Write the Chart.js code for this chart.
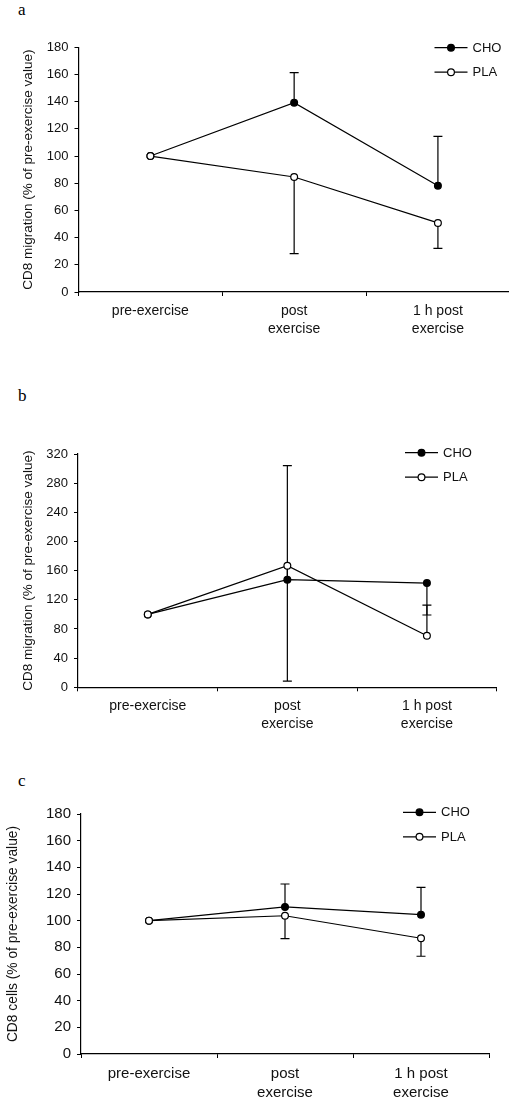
<!DOCTYPE html>
<html>
<head>
<meta charset="utf-8">
<script src="https://cdn.jsdelivr.net/npm/chart.js@4/dist/chart.umd.min.js"></script>
<style>
  html, body { margin: 0; padding: 0; background: #fff; overflow: hidden; }
  body { width: 509px; height: 1106px; position: relative; }
  .panel { position: absolute; left: 0; width: 515px; }
  .letter { position: absolute; left: 18px; font: 17px "Liberation Serif", "Times New Roman", serif; line-height: 17px; color: #000; }
</style>
</head>
<body>
<div class="letter" style="top:1px">a</div>
<div class="letter" style="top:387px">b</div>
<div class="letter" style="top:772px">c</div>

<div class="panel" style="top:0px;height:360px"><canvas id="chart-a"></canvas></div>
<div class="panel" style="top:380px;height:360px"><canvas id="chart-b"></canvas></div>
<div class="panel" style="top:750px;height:356px"><canvas id="chart-c"></canvas></div>

<script>
// time points
const categories = ['pre-exercise', ['post', 'exercise'], ['1 h post', 'exercise']];
const seriesNames = ['CHO', 'PLA'];

// panel a - CD8 migration
const choA = [100, 139.3, 78.2];
const choErrA = [0, 22, 36.3];
const plaA = [100, 84.6, 50.8];
const plaErrA = [0, -56.4, -18.7];

// panel b - CD8 migration
const choB = [100, 147.6, 143];
const choErrB = [0, 156.4, -43.8];
const plaB = [100, 166.8, 70.8];
const plaErrB = [0, -158.2, 41.8];

// panel c - CD8 cells
const choC = [100, 110.3, 104.5];
const choErrC = [0, 17.2, 20.5];
const plaC = [100, 103.7, 86.8];
const plaErrC = [0, -17.2, -13.5];

const titleMigration = 'CD8 migration (% of pre-exercise value)';
const titleCells = 'CD8 cells (% of pre-exercise value)';

// plus = error bar goes up, minus = goes down
const errorBars = {
    id: 'errorBars',
    beforeDatasetsDraw(chart) {
        const ctx = chart.ctx;
        const xs = chart.scales.x, ys = chart.scales.y;
        ctx.save();
        ctx.strokeStyle = '#000';
        ctx.lineWidth = 1.2;
        chart.data.datasets.forEach((ds) => {
            ds.err.forEach((e, i) => {
                if (!e) return;
                const px = xs.getPixelForValue(i);
                const y0 = ys.getPixelForValue(ds.data[i]);
                const y1 = ys.getPixelForValue(ds.data[i] + e);
                ctx.beginPath();
                ctx.moveTo(px, y0);
                ctx.lineTo(px, y1);
                ctx.moveTo(px - 4.5, y1);
                ctx.lineTo(px + 4.5, y1);
                ctx.stroke();
            });
        });
        ctx.restore();
    }
};

// legend: line with marker in the middle, name on the right
const lineLegend = {
    id: 'lineLegend',
    afterDraw(chart, args, opts) {
        const ctx = chart.ctx;
        ctx.save();
        chart.data.datasets.forEach((ds, i) => {
            const y = opts.y + i * 24.5;
            ctx.strokeStyle = '#000';
            ctx.lineWidth = 1.2;
            ctx.beginPath();
            ctx.moveTo(opts.x, y);
            ctx.lineTo(opts.x + 33, y);
            ctx.stroke();
            ctx.beginPath();
            ctx.arc(opts.x + 16.5, y, 3.4, 0, Math.PI * 2);
            ctx.fillStyle = ds.pointBackgroundColor;
            ctx.fill();
            ctx.stroke();
            ctx.fillStyle = '#111';
            ctx.font = opts.fontSize + 'px "Liberation Sans", Arial, sans-serif';
            ctx.textBaseline = 'middle';
            ctx.fillText(ds.label, opts.x + 38, y + 0.5);
        });
        ctx.restore();
    }
};

function makePanel(id, cho, choErr, pla, plaErr, p) {
    const ctx = document.getElementById(id);
    return new Chart(ctx, {
        type: 'line',
        data: {
            labels: categories,
            datasets: [
                {
                    label: seriesNames[0],
                    data: cho,
                    err: choErr,
                    order: 1,
                    borderColor: '#000',
                    borderWidth: 1.2,
                    pointRadius: 3.4,
                    pointBorderWidth: 1.2,
                    pointBorderColor: '#000',
                    pointBackgroundColor: '#000',
                    tension: 0,
                },
                {
                    label: seriesNames[1],
                    data: pla,
                    err: plaErr,
                    order: 0,
                    borderColor: '#000',
                    borderWidth: 1.2,
                    pointRadius: 3.4,
                    pointBorderWidth: 1.2,
                    pointBorderColor: '#000',
                    pointBackgroundColor: '#fff',
                    tension: 0,
                }
            ]
        },
        options: {
            responsive: true,
            maintainAspectRatio: false,
            animation: false,
            layout: {
                padding: { top: p.top, right: p.right, left: 0, bottom: 0 }
            },
            scales: {
                x: {
                    offset: true,
                    grid: { offset: true, drawOnChartArea: false, color: '#000', tickLength: 4 },
                    border: { color: '#000', width: 1.2 },
                    ticks: {
                        color: '#111',
                        padding: p.xPad,
                        maxRotation: 0,
                        font: { family: '"Liberation Sans", Arial, sans-serif', size: p.xFont, lineHeight: 1.3 }
                    },
                    afterFit: (scale) => { scale.height = p.xHeight; }
                },
                y: {
                    min: 0,
                    max: p.max,
                    grid: { drawOnChartArea: false, color: '#000', tickLength: 4 },
                    border: { color: '#000', width: 1.2 },
                    ticks: {
                        stepSize: p.step,
                        color: '#111',
                        padding: 6,
                        font: { family: '"Liberation Sans", Arial, sans-serif', size: p.yFont }
                    },
                    title: {
                        display: true,
                        text: p.title,
                        color: '#111',
                        padding: { top: p.titlePad, bottom: 0 },
                        font: { family: '"Liberation Sans", Arial, sans-serif', size: p.titleFont }
                    },
                    afterFit: (scale) => { scale.width = p.left; }
                }
            },
            plugins: {
                legend: { display: false },
                tooltip: { enabled: false },
                lineLegend: p.legend
            }
        },
        plugins: [errorBars, lineLegend]
    });
}

makePanel('chart-a', choA, choErrA, plaA, plaErrA, {
    top: 47.3, right: 3, left: 78.5, xHeight: 68, max: 180, step: 20,
    yFont: 13, xFont: 14, xPad: 6, title: titleMigration, titlePad: 20, titleFont: 13.5,
    legend: { x: 434.5, y: 47.7, fontSize: 13 }
});

makePanel('chart-b', choB, choErrB, plaB, plaErrB, {
    top: 74, right: 18.3, left: 78, xHeight: 52.7, max: 320, step: 40,
    yFont: 13, xFont: 14, xPad: 6, title: titleMigration, titlePad: 20, titleFont: 13.5,
    legend: { x: 405, y: 72.7, fontSize: 13 }
});

makePanel('chart-c', choC, choErrC, plaC, plaErrC, {
    top: 64, right: 26, left: 81, xHeight: 52, max: 180, step: 20,
    yFont: 15, xFont: 15, xPad: 6, title: titleCells, titlePad: 5, titleFont: 13.8,
    legend: { x: 403, y: 62.3, fontSize: 13 }
});
</script>
</body>
</html>
